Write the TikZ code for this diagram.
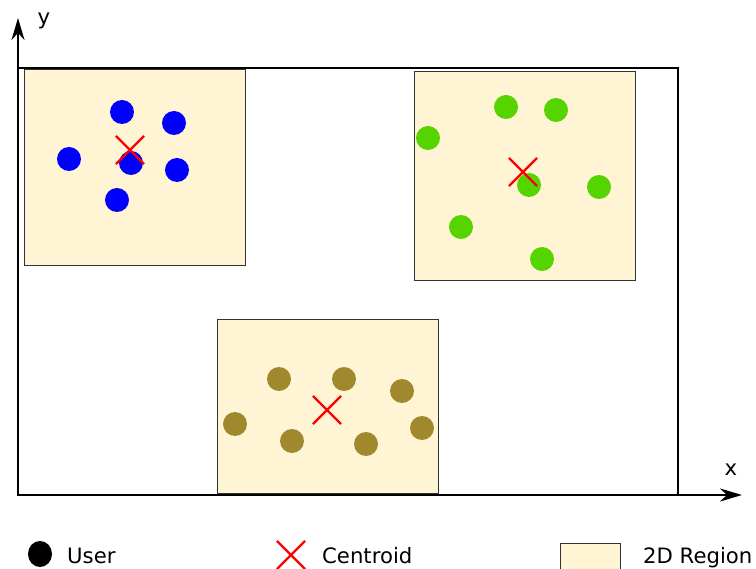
\documentclass[tikz,border=0pt]{standalone}
\usepackage{fontspec}
\setmainfont{DejaVu Sans}
\usetikzlibrary{arrows.meta,shapes.misc,shapes.geometric}
\definecolor{UserBlue}{HTML}{0000FF}
\definecolor{UserGreen}{HTML}{55D400}
\definecolor{UserOlive}{HTML}{A0892C}
\definecolor{RegionFill}{HTML}{FFF5D5}

\begin{document}
\begin{tikzpicture}[x=1pt, y=-1pt,
    user/.style={circle, fill=#1, inner sep=0pt, minimum size=24pt},
    centroid/.style={cross out, draw=red, line width=2.2pt, inner sep=0pt, minimum size=26pt},
    region/.style={draw=black!80, fill=RegionFill, line width=0.9pt},
    axis/.style={-{Stealth[length=22pt,width=13pt,inset=7pt]}, line width=2.4pt},
    lbl/.style={font=\fontsize{21.2}{25}\selectfont, inner sep=0pt}]
    \useasboundingbox (0,0) rectangle (756,569);

    % Plane
    \coordinate (O) at (18,495);
    \coordinate (xend) at (742,495);
    \coordinate (yend) at (18,18);
    \draw[line width=1.1pt] (O) rectangle (678,68);

    % Regions
    \draw[region] (24,69) rectangle (245,265);
    \draw[region] (414,71) rectangle (635,280);
    \draw[region] (217,319) rectangle (438,493);

    % Users of each region
    \foreach \px/\py [count=\i] in {122/112, 174/123, 69/159, 131/163, 177/170, 117/200}
        \node[user=UserBlue] (blue\i) at (\px,\py) {};
    \foreach \px/\py [count=\i] in {506/107, 556/110, 428/138, 529/185, 599/187, 461/227, 542/259}
        \node[user=UserGreen] (green\i) at (\px,\py) {};
    \foreach \px/\py [count=\i] in {279/379, 344/379, 402/391, 235/424, 292/441, 366/444, 422/428}
        \node[user=UserOlive] (olive\i) at (\px,\py) {};

    % Centroids
    \node[centroid] (c1) at (130,150) {};
    \node[centroid] (c2) at (523,172) {};
    \node[centroid] (c3) at (327,410) {};

    % Axes
    \draw[axis] (O) -- (xend);
    \draw[axis] (O) -- (yend);
    \node[lbl] (ylabel) at (44,21) {y};
    \node[lbl] (xlabel) at (731,470) {x};

    % Legend
    \node[ellipse, fill=black, inner sep=0pt, minimum width=24pt, minimum height=26pt] (leguser) at (40,554) {};
    \node[lbl, anchor=base west] (legusertext) at (67,563) {User};
    \node[centroid] (legcentroid) at (291,555) {};
    \node[lbl, anchor=base west] (legcentroidtext) at (322,563) {Centroid};
    \draw[region] (560,543) rectangle (620,585);
    \node[lbl, anchor=base west] (legregiontext) at (643,563) {2D Region};

\end{tikzpicture}
\end{document}
